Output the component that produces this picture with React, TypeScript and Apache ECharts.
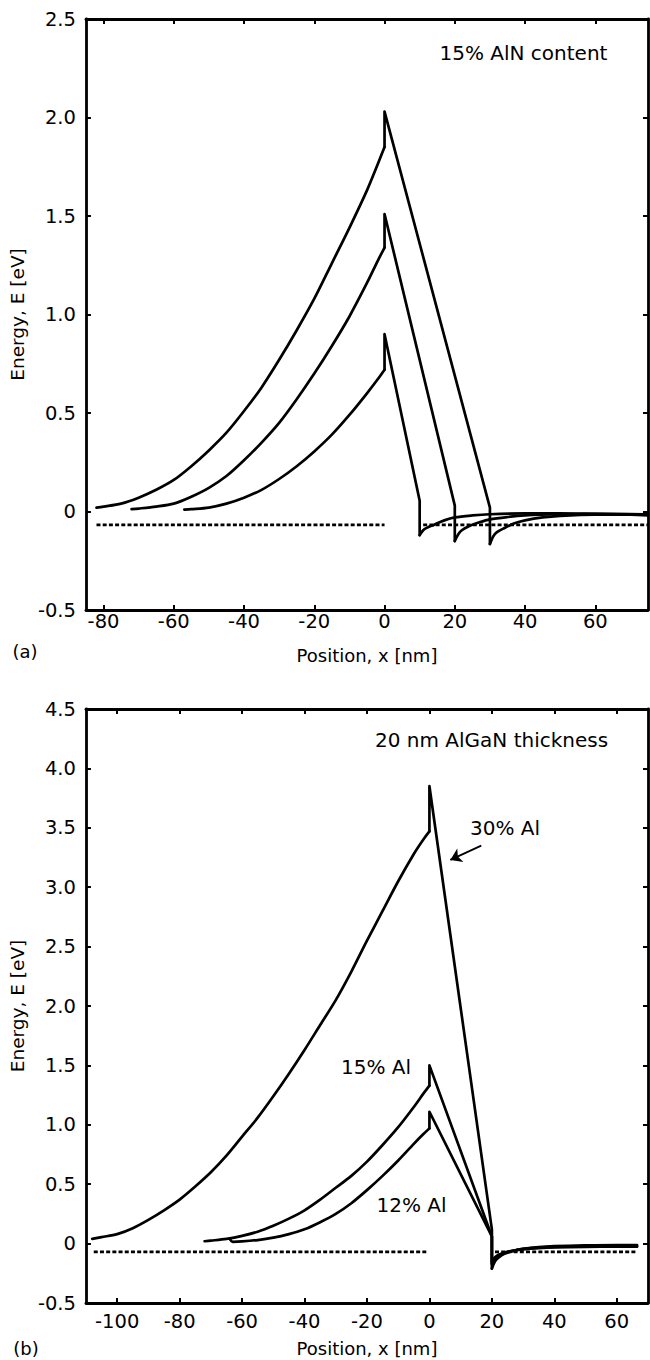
import React, { useEffect, useRef } from "react";
import * as echarts from "echarts";

// ---------- Data: panel (a) 15% AlN content, AlGaN thickness 30 / 20 / 10 nm ----------
const xTicksA = [-80, -60, -40, -20, 0, 20, 40, 60];
const a30Left = [[-82, 0.02], [-80, 0.025], [-75, 0.04], [-70, 0.07], [-65, 0.11], [-60, 0.16], [-55, 0.23], [-50, 0.31], [-45, 0.40], [-40, 0.51], [-35, 0.63], [-30, 0.77], [-25, 0.92], [-20, 1.08], [-15, 1.26], [-10, 1.44], [-5, 1.63], [-2, 1.76], [0, 1.85]];
const a30Mid = [[0, 1.85], [0, 2.03], [30, 0.02], [30, -0.165]];
const a30Right = [[30, -0.165], [31, -0.125], [32, -0.105], [34, -0.085], [37, -0.06], [40, -0.045], [45, -0.03], [50, -0.022], [60, -0.016], [70, -0.016], [75, -0.02]];
const a20Left = [[-72, 0.012], [-70, 0.015], [-65, 0.025], [-60, 0.04], [-55, 0.075], [-50, 0.12], [-45, 0.18], [-40, 0.26], [-35, 0.35], [-30, 0.45], [-25, 0.57], [-20, 0.70], [-15, 0.84], [-10, 0.99], [-5, 1.16], [-2, 1.27], [0, 1.34]];
const a20Mid = [[0, 1.34], [0, 1.51], [20, 0.03], [20, -0.15]];
const a20Right = [[20, -0.15], [21, -0.115], [22, -0.095], [24, -0.075], [27, -0.055], [30, -0.04], [35, -0.028], [40, -0.02], [50, -0.014], [60, -0.012], [75, -0.015]];
const a10Left = [[-57, 0.01], [-55, 0.012], [-50, 0.02], [-45, 0.04], [-40, 0.07], [-35, 0.11], [-30, 0.165], [-25, 0.23], [-20, 0.305], [-15, 0.39], [-10, 0.49], [-5, 0.60], [-2, 0.67], [0, 0.72]];
const a10Mid = [[0, 0.72], [0, 0.90], [10, 0.055], [10, -0.12]];
const a10Right = [[10, -0.12], [11, -0.095], [12, -0.083], [14, -0.068], [17, -0.045], [20, -0.03], [25, -0.02], [30, -0.014], [40, -0.01], [50, -0.01], [60, -0.012], [75, -0.015]];
const aFermiLeft = [[-82, -0.068], [0, -0.068]];
const aFermiRight = [[11, -0.068], [75, -0.068]];

// ---------- Data: panel (b) 20 nm AlGaN thickness, 30 / 15 / 12 % Al ----------
const xTicksB = [-100, -80, -60, -40, -20, 0, 20, 40, 60];
const b30Left = [[-108, 0.04], [-105, 0.055], [-100, 0.08], [-95, 0.13], [-90, 0.20], [-85, 0.28], [-80, 0.37], [-75, 0.48], [-70, 0.60], [-65, 0.74], [-60, 0.90], [-55, 1.06], [-50, 1.24], [-45, 1.43], [-40, 1.63], [-35, 1.84], [-30, 2.05], [-25, 2.29], [-20, 2.55], [-15, 2.80], [-10, 3.05], [-5, 3.28], [-2, 3.40], [0, 3.47]];
const b30Mid = [[0, 3.47], [0, 3.85], [20, 0.12], [20, -0.21]];
const b30Right = [[20, -0.21], [21, -0.15], [22, -0.12], [24, -0.085], [27, -0.06], [30, -0.045], [35, -0.03], [40, -0.022], [50, -0.015], [60, -0.012], [66.5, -0.012]];
const b15Left = [[-72, 0.02], [-70, 0.025], [-65, 0.04], [-60, 0.065], [-55, 0.10], [-50, 0.15], [-45, 0.21], [-40, 0.28], [-35, 0.37], [-30, 0.47], [-25, 0.57], [-20, 0.69], [-15, 0.83], [-10, 0.98], [-5, 1.15], [-2, 1.26], [0, 1.33]];
const b15Mid = [[0, 1.33], [0, 1.50], [20, 0.06], [20, -0.17]];
const b15Right = [[20, -0.17], [21, -0.13], [22, -0.105], [24, -0.08], [27, -0.06], [30, -0.045], [35, -0.035], [40, -0.028], [50, -0.022], [60, -0.02], [66.5, -0.02]];
const b12Left = [[-64, 0.04], [-63, 0.015], [-60, 0.018], [-55, 0.03], [-50, 0.05], [-45, 0.08], [-40, 0.12], [-35, 0.18], [-30, 0.25], [-25, 0.34], [-20, 0.45], [-15, 0.57], [-10, 0.70], [-5, 0.84], [-2, 0.92], [0, 0.97]];
const b12Mid = [[0, 0.97], [0, 1.11], [20, 0.06], [20, -0.15]];
const b12Right = [[20, -0.15], [21, -0.115], [22, -0.095], [24, -0.075], [27, -0.058], [30, -0.048], [35, -0.038], [40, -0.032], [50, -0.028], [60, -0.026], [66.5, -0.026]];
const bFermiLeft = [[-107.5, -0.07], [-1, -0.07]];
const bFermiRight = [[21, -0.07], [66.5, -0.07]];
const bArrow = [[16.6, 3.35], [6.7, 3.23]];

const FONT = '"DejaVu Sans", sans-serif';

function curve(data: number[][], xi: number, yi: number, smooth: boolean) {
  return {
    type: "line",
    data,
    xAxisIndex: xi,
    yAxisIndex: yi,
    showSymbol: false,
    symbol: "none",
    smooth: smooth ? 0.3 : false,
    silent: true,
    lineStyle: { color: "#000", width: 2.7, cap: "round", join: "round" },
  };
}

function dashed(data: number[][], xi: number, yi: number) {
  return {
    type: "line",
    data,
    xAxisIndex: xi,
    yAxisIndex: yi,
    showSymbol: false,
    symbol: "none",
    silent: true,
    lineStyle: { color: "#000", width: 2.7, type: [4, 2.2], cap: "butt" },
  };
}

const yFmt = (v: number) => (Math.abs(v) < 1e-9 ? "0" : v.toFixed(1));

const axLine = { show: true, onZero: false, lineStyle: { color: "#000", width: 2.8 } };

function xAxisPair(gridIndex: number, min: number, max: number, ticks: number[], labelMargin: number) {
  const tick = { show: true, inside: true, length: 5, lineStyle: { color: "#000", width: 2 }, customValues: ticks };
  return [
    {
      type: "value", gridIndex, min, max, position: "bottom",
      axisLine: axLine, axisTick: tick, splitLine: { show: false },
      axisLabel: { show: true, customValues: ticks, color: "#000", fontFamily: FONT, fontSize: 19.5, margin: labelMargin, formatter: (v: number) => String(v) },
      name: "Position, x [nm]", nameLocation: "middle", nameGap: 36,
      nameTextStyle: { color: "#000", fontFamily: FONT, fontSize: 18 },
    },
    {
      type: "value", gridIndex, min, max, position: "top",
      axisLine: axLine, axisTick: tick, splitLine: { show: false },
      axisLabel: { show: false },
    },
  ];
}

function yAxisPair(gridIndex: number, min: number, max: number) {
  const tick = { show: true, inside: true, length: 5, lineStyle: { color: "#000", width: 2 } };
  return [
    {
      type: "value", gridIndex, min, max, interval: 0.5, position: "left",
      axisLine: axLine, axisTick: tick, splitLine: { show: false },
      axisLabel: { show: true, color: "#000", fontFamily: FONT, fontSize: 19.5, margin: 10, formatter: yFmt, showMinLabel: true, showMaxLabel: true },
      name: "Energy, E [eV]", nameLocation: "middle", nameGap: 49,
      nameTextStyle: { color: "#000", fontFamily: FONT, fontSize: 18.5 },
    },
    {
      type: "value", gridIndex, min, max, interval: 0.5, position: "right",
      axisLine: axLine, axisTick: tick, splitLine: { show: false },
      axisLabel: { show: false },
    },
  ];
}

function txt(text: string, x: number, y: number, size: number) {
  return {
    type: "text", x, y, silent: true,
    style: { text, fill: "#000", font: `${size}px ${FONT}`, align: "left", verticalAlign: "middle", textAlign: "left", textVerticalAlign: "middle" },
  };
}

export default function App() {
  const ref = useRef<HTMLDivElement>(null);
  useEffect(() => {
    if (!ref.current) return;
    const chart = echarts.init(ref.current, undefined, { renderer: "svg" });
    const arrowSeries: any = {
      ...curve(b30Mid, 2, 2, false),
      markLine: {
        silent: true,
        symbol: ["none", "arrow"],
        symbolSize: 11,
        label: { show: false },
        lineStyle: { color: "#000", width: 1.8, type: "solid" },
        data: [[{ coord: bArrow[0] }, { coord: bArrow[1] }]],
      },
    };
    chart.setOption({
      animation: false,
      backgroundColor: "#fff",
      grid: [
        { left: 85, top: 19, width: 563, height: 591 },
        { left: 85, top: 709, width: 563, height: 594 },
      ],
      xAxis: [...xAxisPair(0, -85, 75, xTicksA, 1), ...xAxisPair(1, -110, 70, xTicksB, 8)],
      yAxis: [...yAxisPair(0, -0.5, 2.5), ...yAxisPair(1, -0.5, 4.5)],
      series: [
        curve(a30Left, 0, 0, true), curve(a30Mid, 0, 0, false), curve(a30Right, 0, 0, true),
        curve(a20Left, 0, 0, true), curve(a20Mid, 0, 0, false), curve(a20Right, 0, 0, true),
        curve(a10Left, 0, 0, true), curve(a10Mid, 0, 0, false), curve(a10Right, 0, 0, true),
        dashed(aFermiLeft, 0, 0), dashed(aFermiRight, 0, 0),
        curve(b30Left, 2, 2, true), arrowSeries, curve(b30Right, 2, 2, true),
        curve(b15Left, 2, 2, true), curve(b15Mid, 2, 2, false), curve(b15Right, 2, 2, true),
        curve(b12Left, 2, 2, true), curve(b12Mid, 2, 2, false), curve(b12Right, 2, 2, true),
        dashed(bFermiLeft, 2, 2), dashed(bFermiRight, 2, 2),
      ],
      graphic: [
        txt("15% AlN content", 439.5, 52.6, 20),
        txt("20 nm AlGaN thickness", 375, 740, 20),
        txt("30% Al", 470, 828, 20),
        txt("15% Al", 341, 1067, 20),
        txt("12% Al", 376.5, 1205, 20),
        txt("(a)", 12.4, 651, 18),
        txt("(b)", 13.3, 1348, 18),
      ],
    });
    return () => chart.dispose();
  }, []);
  return <div ref={ref} style={{ position: "absolute", left: 0, top: 0, width: 650, height: 1360 }} />;
}
